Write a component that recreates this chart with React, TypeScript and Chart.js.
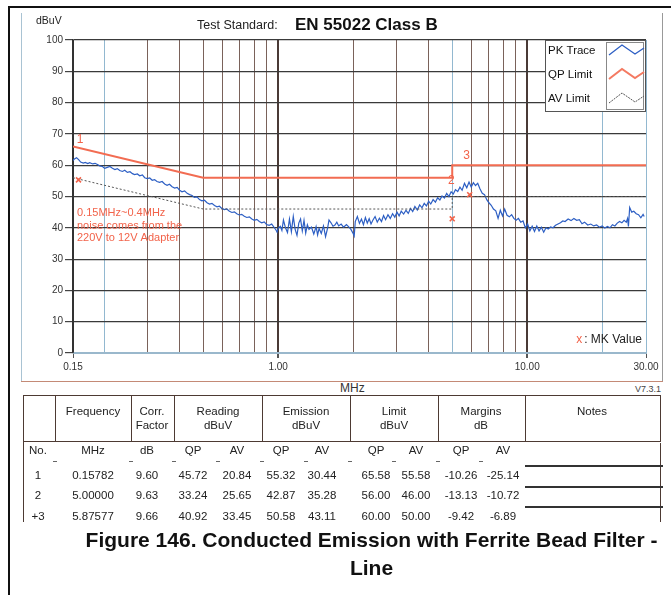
import React, { useEffect, useRef } from "react";
import { Chart, registerables } from "chart.js";
Chart.register(...registerables);

const FONT = '"Liberation Sans", Arial, Helvetica, sans-serif';

// ---- chart data ----
const PK_FREQ = [
  0.150, 0.152, 0.155, 0.158, 0.161, 0.165, 0.168, 0.172, 0.175, 0.180, 0.184, 0.188, 0.192, 0.197,
  0.201, 0.206, 0.211, 0.216, 0.221, 0.226, 0.231, 0.237, 0.242, 0.248, 0.254, 0.260, 0.265, 0.272,
  0.278, 0.285, 0.291, 0.298, 0.305, 0.312, 0.319, 0.326, 0.334, 0.342, 0.350, 0.358, 0.366, 0.375,
  0.384, 0.393, 0.402, 0.411, 0.421, 0.431, 0.441, 0.451, 0.461, 0.472, 0.483, 0.494, 0.506, 0.518,
  0.530, 0.542, 0.555, 0.568, 0.581, 0.594, 0.608, 0.622, 0.637, 0.652, 0.667, 0.682, 0.698, 0.714,
  0.731, 0.748, 0.766, 0.784, 0.802, 0.821, 0.840, 0.859, 0.879, 0.900, 0.921, 0.942, 0.964, 0.980,
  0.990, 1.00, 1.02, 1.035, 1.05, 1.07, 1.09, 1.11, 1.13, 1.15, 1.17, 1.19, 1.21, 1.23, 1.25, 1.27,
  1.29, 1.31, 1.33, 1.36, 1.39, 1.42, 1.44, 1.46, 1.49, 1.52, 1.55, 1.58, 1.60, 1.63, 1.66, 1.69,
  1.72, 1.75, 1.79, 1.83, 1.88, 1.92, 1.96, 2.00, 2.02, 2.04, 2.08, 2.12, 2.16, 2.20, 2.24, 2.28,
  2.32, 2.36, 2.40, 2.45, 2.50, 2.55, 2.60, 2.65, 2.70, 2.76, 2.82, 2.88, 2.94, 3.00, 3.06, 3.12,
  3.19, 3.26, 3.33, 3.40, 3.47, 3.54, 3.62, 3.70, 3.78, 3.86, 3.94, 4.02, 4.10, 4.19, 4.28, 4.37,
  4.46, 4.55, 4.65, 4.75, 4.85, 4.95, 5.05, 5.15, 5.26, 5.37, 5.48, 5.60, 5.72, 5.84, 5.96, 6.08,
  6.20, 6.33, 6.46, 6.60, 6.74, 6.88, 7.02, 7.17, 7.32, 7.48, 7.64, 7.80, 7.96, 8.12, 8.30, 8.48,
  8.66, 8.84, 9.03, 9.22, 9.42, 9.62, 9.83, 10.04, 10.25, 10.47, 10.70, 10.93, 11.16, 11.40, 11.65,
  11.90, 12.15, 12.42, 12.70, 13.00, 13.30, 13.60, 13.90, 14.20, 14.60, 15.00, 15.40, 15.80, 16.20,
  16.60, 17.00, 17.50, 18.00, 18.50, 19.00, 19.50, 20.00, 20.50, 21.00, 21.50, 22.00, 22.50, 23.00,
  23.50, 24.00, 24.50, 25.00, 25.30, 25.50, 25.80, 26.30, 26.80, 27.40, 28.00, 28.60, 29.20, 29.50
];
const PK_LEVEL = [
  61.5, 62.0, 62.4, 61.8, 61.0, 60.7, 60.9, 60.5, 60.8, 60.4, 60.6, 60.2, 59.8, 59.6,
  59.0, 59.3, 59.6, 59.0, 58.6, 58.9, 58.3, 58.0, 58.4, 57.7, 57.9, 57.3, 57.0, 57.2,
  56.6, 56.9, 56.0, 55.7, 55.9, 55.2, 55.4, 54.8, 54.5, 54.8, 54.0, 53.6, 53.9, 53.1,
  52.7, 52.9, 52.0, 51.5, 51.8, 51.0, 50.6, 50.3, 49.7, 49.9, 49.0, 48.6, 48.8, 48.0,
  47.6, 47.8, 47.1, 46.7, 46.9, 46.2, 45.8, 46.0, 45.3, 44.9, 45.1, 44.5, 44.1, 44.3,
  43.7, 43.3, 43.5, 42.8, 42.4, 42.7, 42.0, 41.6, 41.9, 41.0, 40.8, 41.2, 40.1, 39.3,
  38.6, 39.8, 40.5, 39.2, 42.5, 40.0, 38.5, 42.8, 38.8, 43.6, 39.5, 37.6, 41.5, 42.8, 39.0, 42.4,
  38.3, 41.0, 39.5, 40.2, 38.0, 40.4, 37.7, 39.8, 38.2, 40.6, 37.2, 40.0, 42.5, 41.6, 40.5, 40.9,
  41.8, 40.6, 41.2, 40.2, 41.0, 40.3, 39.5, 38.2, 37.4, 42.0, 43.6, 41.4, 42.8, 41.0, 43.3, 41.5,
  42.9, 41.2, 42.4, 43.6, 41.8, 43.1, 42.0, 43.9, 42.6, 44.2, 43.0, 44.5, 43.4, 45.0, 43.8, 45.3,
  44.4, 45.6, 44.6, 46.2, 45.2, 46.8, 45.7, 47.3, 46.4, 47.8, 47.0, 48.5, 47.6, 49.0, 48.2, 49.6,
  48.9, 50.2, 49.5, 51.0, 50.0, 51.5, 50.8, 52.2, 51.6, 53.0, 52.0, 54.2, 52.8, 54.6, 53.0, 54.4,
  53.5, 54.2, 52.5, 51.0, 50.6, 49.0, 48.0, 47.2, 46.0, 45.4, 43.0, 45.6, 43.8, 46.0, 44.0, 43.5,
  44.2, 43.0, 42.4, 43.0, 41.8, 42.2, 40.0, 41.2, 39.0, 40.5, 38.8, 40.6, 39.0, 40.2, 38.6,
  40.0, 39.6, 40.3, 40.0, 40.8, 41.2, 41.6, 42.2, 42.0, 42.8, 42.3, 43.0, 42.4, 42.6,
  41.3, 41.8, 40.9, 41.2, 40.6, 40.9, 40.2, 40.6, 39.9, 40.4, 40.0, 41.0, 40.6, 41.5,
  42.0, 41.6, 42.4, 41.8, 43.0, 40.4, 46.5, 45.0, 45.3, 44.5, 44.2, 43.2, 44.3, 43.6
];
const QP_FREQ = [0.15, 0.5, 5, 5, 30];
const QP_LEVEL = [66, 56, 56, 60, 60];
const AV_FREQ = [0.15, 0.5, 5, 5, 30];
const AV_LEVEL = [56, 46, 46, 50, 50];
const X_GRID = [0.15, 0.2, 0.3, 0.4, 0.5, 0.6, 0.7, 0.8, 0.9, 1, 2, 3, 4, 5, 6, 7, 8, 9, 10, 20, 30];
const X_LABELS: Record<string, string> = { "0.15": "0.15", "1": "1.00", "10": "10.00", "30": "30.00" };
const X_LIGHT = [0.2, 5, 20, 30];
const X_MAJOR = [1, 10];

// ---- table data ----
const TBL_NO = ["1", "2", "+3"];
const TBL_FREQ = ["0.15782", "5.00000", "5.87577"];
const TBL_CORR = ["9.60", "9.63", "9.66"];
const TBL_READ_QP = ["45.72", "33.24", "40.92"];
const TBL_READ_AV = ["20.84", "25.65", "33.45"];
const TBL_EMI_QP = ["55.32", "42.87", "50.58"];
const TBL_EMI_AV = ["30.44", "35.28", "43.11"];
const TBL_LIM_QP = ["65.58", "56.00", "60.00"];
const TBL_LIM_AV = ["55.58", "46.00", "50.00"];
const TBL_MAR_QP = ["-10.26", "-13.13", "-9.42"];
const TBL_MAR_AV = ["-25.14", "-10.72", "-6.89"];
const MK_LABELS = ["1", "2", "3"];
const NOTE_LINES = ["0.15MHz~0.4MHz", "noise comes from the", "220V to 12V Adapter"];

const RED = "#f2634a";

const overlayPlugin = {
  id: "overlay",
  afterDatasetsDraw(chart: any) {
    const { ctx, chartArea: a, scales } = chart;
    const x = scales.x, y = scales.y;
    ctx.save();
    // marker numbers
    const dx = [1.5, -1, -3];
    const dy = [-8, 2.5, -10];
    ctx.font = `12px ${FONT}`;
    ctx.fillStyle = RED;
    ctx.textAlign = "center";
    ctx.textBaseline = "middle";
    MK_LABELS.forEach((t, i) => {
      const px = x.getPixelForValue(parseFloat(TBL_FREQ[i])) + dx[i];
      const py = y.getPixelForValue(parseFloat(TBL_LIM_QP[i])) + dy[i];
      ctx.fillText(t, px, py);
    });
    // note text
    ctx.font = `11px ${FONT}`;
    ctx.textAlign = "left";
    NOTE_LINES.forEach((t, i) => ctx.fillText(t, a.left + 4, a.top + 173 + i * 12.5));
    // MK value
    ctx.font = `12px ${FONT}`;
    ctx.textAlign = "right";
    ctx.fillStyle = "#222";
    ctx.fillText(": MK Value", a.right - 4, a.top + 300);
    const w = ctx.measureText(": MK Value").width;
    ctx.fillStyle = RED;
    ctx.fillText("x", a.right - 6 - w, a.top + 300);
    // legend
    const lx = a.right - 101, ly = a.top, lw = 101, lh = 72;
    ctx.fillStyle = "#fff";
    ctx.fillRect(lx, ly, lw, lh);
    ctx.strokeStyle = "#555";
    ctx.lineWidth = 1;
    ctx.strokeRect(lx + 0.5, ly + 0.5, lw - 1, lh - 1);
    ctx.strokeStyle = "#888";
    ctx.strokeRect(a.right - 39.5, ly + 2.5, 37, lh - 5);
    const items = [
      { t: "PK Trace", c: "#2d5fc4", w: 1.3, d: [] as number[] },
      { t: "QP Limit", c: "#f47a62", w: 2, d: [] as number[] },
      { t: "AV Limit", c: "#555", w: 1, d: [2, 1] },
    ];
    ctx.font = `11.5px ${FONT}`;
    ctx.textAlign = "left";
    items.forEach((it, i) => {
      const yc = ly + 11 + i * 24;
      ctx.fillStyle = "#111";
      ctx.fillText(it.t, lx + 3, yc);
      const x0 = a.right - 37;
      ctx.beginPath();
      ctx.strokeStyle = it.c;
      ctx.lineWidth = it.w;
      ctx.setLineDash(it.d);
      ctx.moveTo(x0, yc + 4);
      ctx.lineTo(x0 + 13, yc - 6);
      ctx.lineTo(x0 + 26, yc + 3);
      ctx.lineTo(x0 + 35, yc - 3);
      ctx.stroke();
      ctx.setLineDash([]);
    });
    ctx.restore();
  },
};

function ChartPanel() {
  const ref = useRef<HTMLCanvasElement | null>(null);
  useEffect(() => {
    if (!ref.current) return;
    const pts = (fs: number[], vs: number[]) => fs.map((f, i) => ({ x: f, y: vs[i] }));
    const chart = new Chart(ref.current, {
      type: "line",
      data: {
        datasets: [
          {
            label: "PK Trace",
            data: pts(PK_FREQ, PK_LEVEL),
            borderColor: "#2d5fc4",
            borderWidth: 1.2,
            pointRadius: 0,
            order: 3,
          },
          {
            label: "AV Limit",
            data: pts(AV_FREQ, AV_LEVEL),
            borderColor: "#555",
            borderWidth: 1,
            borderDash: [2, 2],
            pointRadius: 0,
            order: 2,
          },
          {
            label: "QP Limit",
            data: pts(QP_FREQ, QP_LEVEL),
            borderColor: "#f26c52",
            borderWidth: 2,
            pointRadius: 0,
            order: 1,
          },
          {
            label: "MK",
            data: pts(TBL_FREQ.map(parseFloat), TBL_EMI_QP.map(parseFloat)),
            showLine: false,
            pointStyle: "crossRot",
            pointRadius: 3.5,
            borderColor: RED,
            borderWidth: 1.6,
            order: 0,
          },
        ],
      } as any,
      options: {
        animation: false,
        responsive: false,
        maintainAspectRatio: false,
        layout: { padding: { left: 0, top: 26, right: 17, bottom: 0 } },
        plugins: { legend: { display: false }, tooltip: { enabled: false }, title: { display: false } },
        scales: {
          x: {
            type: "logarithmic",
            min: 0.15,
            max: 30,
            afterBuildTicks: (s: any) => {
              s.ticks = X_GRID.map((v) => ({ value: v }));
            },
            afterFit: (s: any) => {
              s.height = 21;
            },
            ticks: {
              autoSkip: false,
              maxRotation: 0,
              padding: 3,
              color: "#333",
              font: { family: FONT, size: 10 },
              callback: (v: any) => X_LABELS[String(v)] ?? "",
            },
            grid: {
              tickLength: 5,
              color: (c: any) => {
                const v = c.tick?.value;
                if (v === 0.15) return "#333";
                if (X_MAJOR.includes(v)) return "#4a3a36";
                if (X_LIGHT.includes(v)) return "#92b8d0";
                return "#7a625a";
              },
              lineWidth: (c: any) => (X_MAJOR.includes(c.tick?.value) ? 2 : 1),
              tickColor: (c: any) => (X_LABELS[String(c.tick?.value)] ? "#555" : "rgba(0,0,0,0)"),
            },
            border: { display: true, color: "#9ab8cc", width: 1 },
          },
          y: {
            type: "linear",
            min: 0,
            max: 100,
            afterFit: (s: any) => {
              s.width = 52;
            },
            ticks: {
              stepSize: 10,
              padding: 2,
              color: "#333",
              font: { family: FONT, size: 10 },
            },
            grid: {
              tickLength: 8,
              color: (c: any) => (c.tick?.value === 0 ? "#9ab8cc" : "#3a3a3a"),
              lineWidth: 1.2,
              tickColor: "#444",
            },
            border: { display: true, color: "#333", width: 1.5 },
          },
        },
      } as any,
      plugins: [overlayPlugin],
    });
    return () => chart.destroy();
  }, []);
  return (
    <canvas
      ref={ref}
      width={642}
      height={360}
      style={{ position: "absolute", left: 21, top: 14, width: 642, height: 360 }}
    />
  );
}

const abs = (left: number, top: number, extra: React.CSSProperties = {}): React.CSSProperties => ({
  position: "absolute",
  left,
  top,
  whiteSpace: "nowrap",
  ...extra,
});

function CenterText({ x, y, text, size = 11.5, bold = false, color = "#222" }: any) {
  return (
    <div
      style={{
        position: "absolute",
        left: x,
        top: y,
        transform: "translate(-50%, -50%)",
        whiteSpace: "nowrap",
        fontSize: size,
        fontWeight: bold ? 700 : 400,
        color,
        lineHeight: 1,
      }}
    >
      {text}
    </div>
  );
}

function Table() {
  const T = 395;
  const vLines = [55, 131, 174, 262, 350, 438, 525];
  const cols = [38, 93, 147, 193, 237, 281, 322, 376, 416, 461, 503];
  const rowY = [476, 496, 516.5];
  const lineC = "#4d3a33";
  const rows = TBL_NO.map((n, i) => [
    n,
    TBL_FREQ[i],
    TBL_CORR[i],
    TBL_READ_QP[i],
    TBL_READ_AV[i],
    TBL_EMI_QP[i],
    TBL_EMI_AV[i],
    TBL_LIM_QP[i],
    TBL_LIM_AV[i],
    TBL_MAR_QP[i],
    TBL_MAR_AV[i],
  ]);
  const sub = ["No.", "MHz", "dB", "QP", "AV", "QP", "AV", "QP", "AV", "QP", "AV"];
  const heads = [
    { x: 93, t: ["Frequency"] },
    { x: 152, t: ["Corr.", "Factor"] },
    { x: 218, t: ["Reading", "dBuV"] },
    { x: 306, t: ["Emission", "dBuV"] },
    { x: 394, t: ["Limit", "dBuV"] },
    { x: 481, t: ["Margins", "dB"] },
    { x: 592, t: ["Notes"] },
  ];
  return (
    <div style={{ position: "absolute", left: 0, top: 0, width: 671, height: 522, overflow: "hidden" }}>
      {/* borders */}
      <div style={abs(23, T, { width: 638, height: 1, background: lineC })} />
      <div style={abs(23, 441, { width: 638, height: 1, background: lineC })} />
      <div style={abs(23, T, { width: 1, height: 200, background: lineC })} />
      <div style={abs(660, T, { width: 1, height: 46, background: lineC })} />
      <div style={abs(660, 443, { width: 1, height: 100, background: lineC })} />
      {vLines.map((x) => (
        <div key={x} style={abs(x, T, { width: 1, height: 46, background: lineC })} />
      ))}
      {[55, 131, 174, 218, 262, 306, 350, 394, 438, 481].map((x) => (
        <div key={"t" + x} style={abs(x - 2, 461, { width: 4, height: 1, background: "#666" })} />
      ))}
      {[465, 486, 506].map((y) => (
        <div key={"n" + y} style={abs(525, y, { width: 138, height: 1.5, background: "#333" })} />
      ))}
      {heads.map((h) =>
        h.t.map((t, j) => <CenterText key={h.x + t} x={h.x} y={j === 0 ? 412 : 426} text={t} />)
      )}
      {sub.map((t, j) => (
        <CenterText key={"s" + j} x={cols[j]} y={451} text={t} />
      ))}
      {rows.map((r, i) =>
        r.map((t, j) => <CenterText key={"r" + i + "_" + j} x={cols[j]} y={rowY[i]} text={t} />)
      )}
    </div>
  );
}

export default function App() {
  return (
    <div
      style={{
        position: "absolute",
        left: 0,
        top: 0,
        width: 671,
        height: 595,
        overflow: "hidden",
        background: "#fff",
        fontFamily: FONT,
        color: "#222",
      }}
    >
      {/* outer figure frame */}
      <div style={abs(8, 6, { width: 680, height: 2, background: "#111" })} />
      <div style={abs(8, 6, { width: 2, height: 600, background: "#111" })} />
      {/* chart panel frame */}
      <div style={abs(21, 13, { width: 1, height: 369, background: "#a9c3d3" })} />
      <div style={abs(662, 13, { width: 1, height: 369, background: "#999" })} />
      <div style={abs(21, 381, { width: 642, height: 1, background: "#c48a76" })} />
      <ChartPanel />
      <div style={abs(36, 14, { fontSize: 10.5, color: "#222", lineHeight: "13px" })}>dBuV</div>
      <div style={abs(197, 17, { fontSize: 12.5, color: "#222", lineHeight: "16px" })}>Test Standard:</div>
      <div style={abs(295, 14, { fontSize: 17, fontWeight: 700, color: "#111", lineHeight: "21px" })}>
        EN 55022 Class B
      </div>
      <div style={abs(340, 381, { fontSize: 12, color: "#333", lineHeight: "14px" })}>MHz</div>
      <div style={abs(635, 384, { fontSize: 9, color: "#444", lineHeight: "11px" })}>V7.3.1</div>
      <Table />
      <div
        style={{
          position: "absolute",
          left: 71,
          width: 601,
          top: 526,
          textAlign: "center",
          fontSize: 21,
          fontWeight: 700,
          color: "#111",
          lineHeight: "28px",
          whiteSpace: "nowrap",
        }}
      >
        Figure 146. Conducted Emission with Ferrite Bead Filter -
        <br />
        Line
      </div>
    </div>
  );
}
